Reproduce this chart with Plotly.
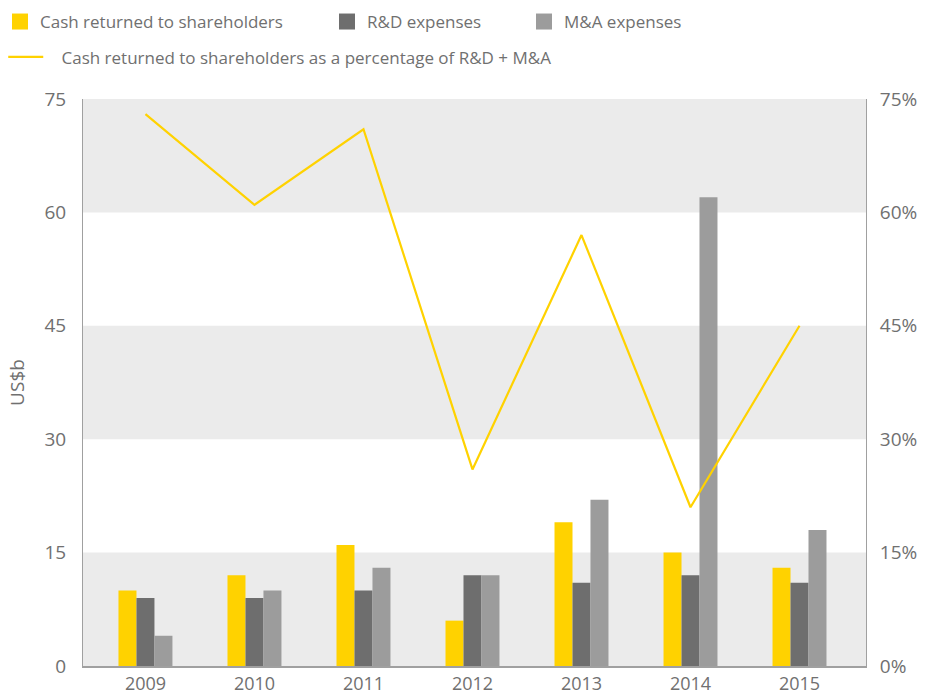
import plotly.graph_objects as go

years = ["2009", "2010", "2011", "2012", "2013", "2014", "2015"]
cash_returned = [10, 12, 16, 6, 19, 15, 13]
rd_expenses = [9, 9, 10, 12, 11, 12, 11]
ma_expenses = [4, 10, 13, 12, 22, 62, 18]
cash_pct = [73, 61, 71, 26, 57, 21, 45]

y_ticks = [0, 15, 30, 45, 60, 75]
y2_labels = ["0%", "15%", "30%", "45%", "60%", "75%"]

YELLOW = "#FFD200"
DARK = "#6E6E6E"
LIGHT = "#9C9C9C"
BAND = "#EBEBEB"
TEXT = "#707070"
AXIS = "#A0A0A0"
FONT = "Open Sans"

fig = go.Figure()

series = [
    ("Cash returned to shareholders", cash_returned, YELLOW, 282),
    ("R&D expenses", rd_expenses, DARK, 152),
    ("M&A expenses", ma_expenses, LIGHT, 152),
]

for name, vals, color, lw in series:
    fig.add_trace(go.Bar(
        x=years, y=vals, name=name, marker=dict(color=color, line=dict(width=0)),
        showlegend=False, hoverinfo="x+y",
    ))
    # legend swatch
    fig.add_trace(go.Scatter(
        x=[None], y=[None], mode="markers", name=name,
        marker=dict(symbol="square", size=16, color=color),
        legend="legend", legendwidth=lw,
    ))

fig.add_trace(go.Scatter(
    x=years, y=cash_pct, yaxis="y2", mode="lines",
    name="\u00a0\u00a0\u00a0Cash returned to shareholders as a percentage of R&D + M&A",
    line=dict(color=YELLOW, width=2.2),
    legend="legend2",
))

# alternating horizontal bands
for lo in (0, 30, 60):
    fig.add_shape(type="rect", xref="paper", yref="y", x0=0, x1=1, y0=lo, y1=lo + 15,
                  fillcolor=BAND, line=dict(width=0), layer="below")

fig.update_layout(
    width=926, height=698,
    margin=dict(l=83, r=60, t=99, b=31.5),
    paper_bgcolor="white", plot_bgcolor="white",
    font=dict(family=FONT, color=TEXT, size=17),
    barmode="group", bargap=0.505, bargroupgap=0,
    xaxis=dict(
        type="category", range=[-0.573, 6.61], automargin=False,
        showline=True, linecolor=AXIS, linewidth=1.5,
        showgrid=False, ticks="", tickfont=dict(size=18, color=TEXT),
        ticklabelstandoff=1,
    ),
    yaxis=dict(
        range=[0, 75], tickvals=y_ticks, showgrid=False, zeroline=False,
        showline=True, linecolor=AXIS, linewidth=1, automargin="left",
        tickfont=dict(size=19, color=TEXT), ticklabelstandoff=12,
        title=dict(text="US$b", font=dict(size=19, color=TEXT), standoff=14),
    ),
    yaxis2=dict(
        range=[0, 75], tickvals=y_ticks, ticktext=y2_labels, overlaying="y", side="right",
        showgrid=False, zeroline=False, showline=True, linecolor=AXIS, linewidth=1,
        automargin=False,
        tickfont=dict(size=19, color=TEXT), ticklabelstandoff=9,
    ),
    legend=dict(
        orientation="h", xref="container", yref="container", x=0, y=0.9943,
        xanchor="left", yanchor="top", font=dict(size=17, color=TEXT),
        traceorder="normal", bgcolor="rgba(0,0,0,0)",
    ),
    legend2=dict(
        orientation="h", xref="container", yref="container", x=0.0035, y=0.9436,
        xanchor="left", yanchor="top", font=dict(size=17, color=TEXT),
        itemwidth=35, bgcolor="rgba(0,0,0,0)",
    ),
)

fig.write_html("out.html")
